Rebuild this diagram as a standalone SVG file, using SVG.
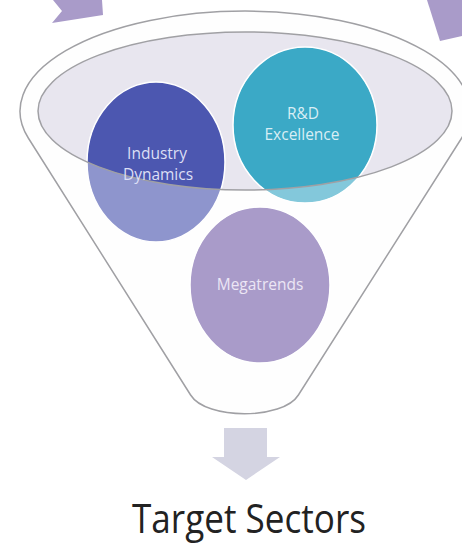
<svg xmlns="http://www.w3.org/2000/svg" width="462" height="546" viewBox="0 0 462 546">
  <style>
    .lbl { font-family: "Open Sans", "Liberation Sans", sans-serif; font-size: 15.5px; text-anchor: middle; }
    .rim { fill: none; stroke: #a0a0a4; stroke-width: 1.5; }
    .arrow { fill: #a99bc9; }
    .circ { stroke: #ffffff; stroke-width: 1.5; }
  </style>
  <rect width="462" height="546" fill="#ffffff"/>

  <g id="funnel">
    <path id="funnel-body" d="M28.3,138 A225,100 0 1 1 461.7,138 L298.4,395 C283,420 206,420 190.6,395 Z" fill="#fdfdfe"/>
    <ellipse id="funnel-opening" cx="245" cy="111" rx="207" ry="79" fill="#e8e6ef"/>
  </g>

  <g id="node-industry">
    <ellipse class="circ" cx="156" cy="162" rx="69" ry="80" fill="#4c57b0"/>
  </g>
  <g id="node-rd">
    <ellipse class="circ" cx="305" cy="125" rx="72" ry="78" fill="#3ba9c6"/>
  </g>
  <g id="node-megatrends">
    <ellipse class="circ" cx="260" cy="285" rx="70" ry="78" fill="#7761aa"/>
  </g>

  <g id="funnel-front">
    <path d="M28.3,138 A225,100 0 1 1 461.7,138 L298.4,395 C283,420 206,420 190.6,395 Z M38,111 A207,79 0 1 0 452,111 A207,79 0 1 0 38,111 Z" fill="#ffffff" fill-opacity="0.37" fill-rule="evenodd"/>
    <ellipse class="rim" cx="245" cy="111" rx="207" ry="79"/>
    <path class="rim" d="M28.3,138 A225,100 0 1 1 461.7,138 L298.4,395 C283,420 206,420 190.6,395 Z"/>
  </g>

  <g id="labels">
    <text class="lbl" x="157" y="159" fill="#dcdff5">Industry</text>
    <text class="lbl" x="158" y="180" fill="#dcdff5">Dynamics</text>
    <text class="lbl" x="303" y="119" fill="#d8eef5">R&amp;D</text>
    <text class="lbl" x="302" y="140" fill="#d8eef5">Excellence</text>
    <text class="lbl" x="260" y="290" fill="#ece6f5">Megatrends</text>
  </g>

  <g id="connectors">
    <polygon class="arrow" points="53,0 62,11 52,23 103,15 102,0"/>
    <polygon class="arrow" points="427,0 440,41 462,36 462,0"/>
    <polygon points="224,428 267,428 267,457 280,457 246,480 212,457 224,457" fill="#d4d4e2"/>
  </g>

  <g id="node-target">
    <text x="132" y="533" font-family="'Open Sans', 'Liberation Sans', sans-serif" font-size="40" fill="#222222" textLength="234" lengthAdjust="spacingAndGlyphs">Target Sectors</text>
  </g>
</svg>
